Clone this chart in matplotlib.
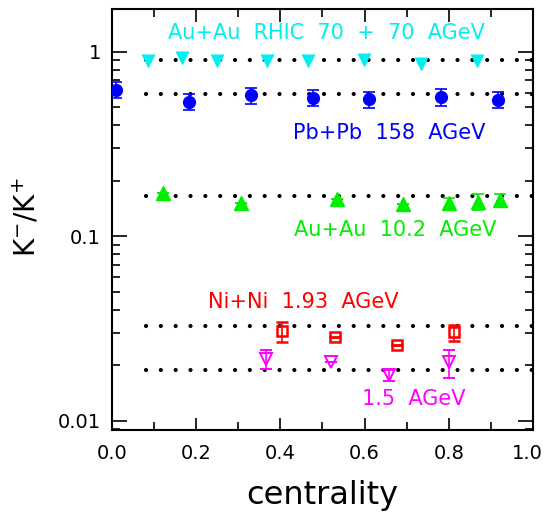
import numpy as np
import matplotlib
matplotlib.use('Agg')
import matplotlib.pyplot as plt
import matplotlib.transforms as mtransforms

# Au+Au RHIC 70+70 AGeV
rhic_x = [0.085, 0.166, 0.249, 0.368, 0.466, 0.599, 0.734, 0.867]
rhic_y = [0.894, 0.928, 0.894, 0.894, 0.894, 0.905, 0.860, 0.894]
rhic_level = 0.905

# Pb+Pb 158 AGeV
pb_x = [0.010, 0.183, 0.330, 0.477, 0.610, 0.781, 0.917]
pb_y = [0.622, 0.533, 0.579, 0.564, 0.553, 0.567, 0.549]
pb_err = [0.062, 0.053, 0.058, 0.056, 0.055, 0.057, 0.055]
pb_level = 0.591

# Au+Au 10.2 AGeV
ags_x = [0.122, 0.306, 0.535, 0.692, 0.800, 0.870, 0.922]
ags_y = [0.172, 0.152, 0.160, 0.150, 0.152, 0.154, 0.157]
ags_err = [0.0, 0.0, 0.0, 0.0, 0.010, 0.015, 0.012]
ags_level = 0.166

# Ni+Ni 1.93 AGeV
ni_x = [0.405, 0.531, 0.676, 0.812]
ni_y = [0.0305, 0.0283, 0.0256, 0.0302]
ni_err = [0.0038, 0.0, 0.0, 0.0030]
ni_level = 0.0326

# Ni+Ni 1.5 AGeV
ni15_x = [0.365, 0.520, 0.657, 0.801]
ni15_y = [0.0216, 0.0207, 0.0177, 0.0207]
ni15_err = [0.0025, 0.0, 0.0012, 0.0036]
ni15_level = 0.0188

fig = plt.figure(figsize=(5.46, 5.12), dpi=100)
ax = fig.add_axes([0.205, 0.160, 0.771, 0.822])
ax.set_yscale('log')
ax.set_xlim(0, 1.0)
ax.set_ylim(0.00891, 1.697)

# dotted reference lines
for lev in [rhic_level, pb_level, ags_level, ni_level, ni15_level]:
  ax.plot([0.08, 1.0], [lev, lev], color='black', lw=3.0,
          dashes=(0.01, 3.55), dash_capstyle='round', zorder=1)

ax.plot(rhic_x, rhic_y, 'v', color='#00f0f0', ms=9.5, mec='none', zorder=3)
ax.errorbar(pb_x, pb_y, yerr=pb_err, fmt='o', color='blue', ms=8.5,
            capsize=4, elinewidth=1.2, capthick=1.2, zorder=3)
ax.errorbar(ags_x, ags_y, yerr=ags_err, fmt='^', color='#00ee00', ms=9.5,
            capsize=4, elinewidth=1.2, capthick=1.2, zorder=3)
ax.errorbar(ni_x, ni_y, yerr=ni_err, fmt='s', color='red', mfc='none',
            ms=7.5, mew=1.8, capsize=4, elinewidth=1.2, capthick=1.2, zorder=3)
ax.errorbar(ni15_x, ni15_y, yerr=ni15_err, fmt='v', color='magenta', mfc='none',
            ms=8, mew=1.4, capsize=4, elinewidth=1.2, capthick=1.2, zorder=3)

fs = 15
ax.text(0.133, 1.26, 'Au+Au  RHIC  70  +  70  AGeV', color='#00f0f0', fontsize=fs, va='center')
ax.text(0.429, 0.362, 'Pb+Pb  158  AGeV', color='blue', fontsize=fs, va='center')
ax.text(0.432, 0.108, 'Au+Au  10.2  AGeV', color='#00ee00', fontsize=fs, va='center')
ax.text(0.228, 0.0440, 'Ni+Ni  1.93  AGeV', color='red', fontsize=fs, va='center')
ax.text(0.595, 0.0131, '1.5  AGeV', color='magenta', fontsize=fs, va='center')

# ticks
ax.set_xticks([0.0, 0.2, 0.4, 0.6, 0.8, 1.0])
ax.set_xticklabels(['0.0', '0.2', '0.4', '0.6', '0.8', '1.0'])
ax.set_xticks(np.arange(0.1, 1.0, 0.2), minor=True)
ax.set_yticks([0.01, 0.1, 1])
ax.set_yticklabels(['0.01', '0.1', '1'])
ax.tick_params(which='both', direction='in', top=True, right=True, width=1.2,
               labelsize=14, colors='black')
ax.tick_params(axis='y', which='major', length=11, pad=8)
ax.tick_params(axis='y', which='minor', length=6)
ax.tick_params(axis='x', which='major', length=9, pad=10)
ax.tick_params(axis='x', which='minor', length=6)
for s in ax.spines.values():
  s.set_linewidth(1.5)

# nudge last x label so it stays inside the figure
last = ax.get_xticklabels()[-1]
last.set_transform(last.get_transform() +
                   mtransforms.ScaledTranslation(-6 / 100, 0, fig.dpi_scale_trans))

ax.text(0.499, -0.155, 'centrality', fontsize=23, ha='center', va='center',
        transform=ax.transAxes)
ax.text(-0.202, 0.506, 'K$^{-}$/K$^{+}$', fontsize=20, ha='center', va='center',
        rotation=90, transform=ax.transAxes)

fig.savefig('out.png', dpi=100)
